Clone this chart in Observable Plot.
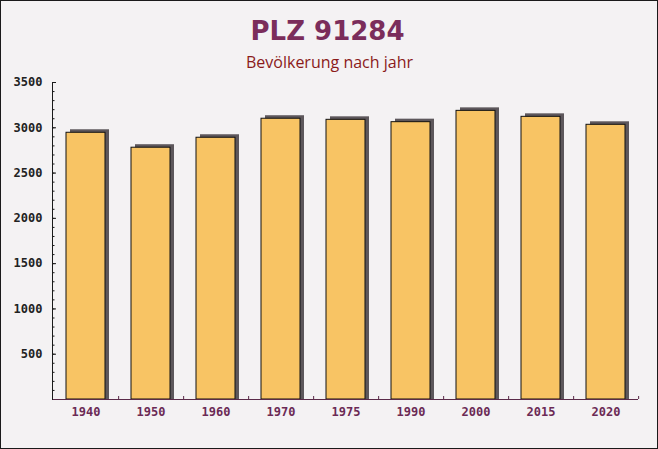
<!DOCTYPE html>
<html>
<head>
<meta charset="utf-8">
<script src="https://cdn.jsdelivr.net/npm/d3@7"></script>
<script src="https://cdn.jsdelivr.net/npm/@observablehq/plot@0.6"></script>
<style>
  html, body { margin: 0; padding: 0; background: #f4f2f3; }
  #chart svg { display: block; background: #f4f2f3; outline: 1px solid #1a1a1a; outline-offset: -1px; }
</style>
</head>
<body>
<div id="chart"></div>
<script>
const years = ["1940", "1950", "1960", "1970", "1975", "1990", "2000", "2015", "2020"];
const population = [2945, 2780, 2890, 3100, 3088, 3062, 3187, 3121, 3033];
const yTicks = [500, 1000, 1500, 2000, 2500, 3000, 3500];
const yMinorTicks = d3.range(100, 3501, 100);
const title = "PLZ 91284";
const subtitle = "Bevölkerung nach jahr";

const data = years.map((y, i) => ({year: y, value: population[i]}));

const W = 658, H = 449;
const mL = 52, mR = 20, mT = 82, mB = 50;
const step = (W - mL - mR) / (years.length - 0.4 + 0.38);

const chart = Plot.plot({
  width: W,
  height: H,
  marginLeft: mL,
  marginRight: mR,
  marginTop: mT,
  marginBottom: mB,
  style: {background: "#f4f2f3", overflow: "visible"},
  x: {domain: years, paddingInner: 0.4, paddingOuter: 0.19, label: null},
  y: {domain: [0, 3500], label: null},
  marks: [
    // shadows
    Plot.barY(data, {x: "year", y: "value", fill: "#5d575b", dx: 4, insetTop: -3}),
    // bars
    Plot.barY(data, {x: "year", y: "value", fill: "#f8c464", stroke: "#111", strokeWidth: 1}),
    // axes lines
    Plot.ruleY([0], {stroke: "#5a2a48", strokeWidth: 1}),
    Plot.frame({anchor: "left", stroke: "#1a1a1a"}),
    // y minor / major ticks (inside)
    Plot.tickY(yMinorTicks, {y: d => d, stroke: "#1a1a1a", insetRight: (W - mL - mR) - 2.5}),
    Plot.tickY(yTicks, {y: d => d, stroke: "#1a1a1a", insetRight: (W - mL - mR) - 4}),
    // x ticks at band boundaries
    Plot.ruleX(years, {x: d => d, dx: step / 2, stroke: "#5a2a48", insetTop: (H - mT - mB) - 3}),
    Plot.axisY({ticks: yTicks, tickFormat: d3.format("d"), tickSize: 0, tickPadding: 10, fontFamily: "DejaVu Sans Mono", fontWeight: "bold", fontSize: 12, fill: "#222", stroke: null}),
    Plot.axisX({tickSize: 0, tickPadding: 8, fontFamily: "DejaVu Sans Mono", fontWeight: "bold", fontSize: 12, fill: "#6b2a55"}),
    // title & subtitle
    Plot.text([title], {frameAnchor: "top", dx: -18, dy: -43, lineAnchor: "bottom", fontFamily: "DejaVu Sans", fontWeight: "bold", fontSize: 26, fill: "#7b2d5b"}),
    Plot.text([subtitle], {frameAnchor: "top", dx: -16, dy: -15, lineAnchor: "bottom", fontFamily: "Open Sans", fontSize: 16, fill: "#8b1a1a"})
  ]
});

document.getElementById("chart").appendChild(chart);
</script>
</body>
</html>
